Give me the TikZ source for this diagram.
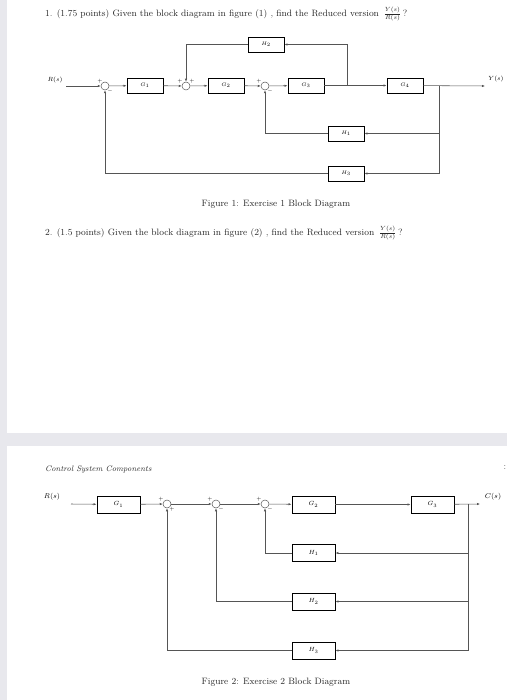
\documentclass[tikz,border=0pt]{standalone}
\usetikzlibrary{arrows.meta,positioning}
\definecolor{pagegray}{RGB}{232,232,237}
\definecolor{wirecol}{RGB}{85,85,85}
\definecolor{inkcol}{RGB}{40,40,40}
\tikzset{
  blk/.style={draw=black,line width=0.9pt,minimum width=36pt,minimum height=15pt,inner sep=0pt,font=\fontsize{5.5}{6}\selectfont},
  blkb/.style={blk,minimum width=43pt,minimum height=17pt,font=\fontsize{6.5}{7}\selectfont},
  sumc/.style={draw=wirecol,circle,minimum size=8pt,inner sep=0pt,line width=0.5pt},
  wire/.style={draw=wirecol,line width=0.55pt},
  sig/.style={wire,-{Latex[length=3pt,width=2.4pt]}},
  sgn/.style={font=\fontsize{5}{5}\selectfont,inner sep=0pt},
  lbl/.style={font=\fontsize{6}{7}\selectfont,inner sep=0pt},
  txt/.style={font=\fontsize{9.2}{10}\selectfont,inner sep=0pt,text=inkcol}
}
\begin{document}
\begin{tikzpicture}[x=1pt,y=-1pt]
\useasboundingbox (0,0) rectangle (507,700);

% page edges of the screenshot
\fill[pagegray] (0,0) rectangle (7,700);
\fill[pagegray] (7,433) rectangle (507,446);

% question 1
\node[txt,anchor=west] (q1) at (45,14) {1. (1.75 points) Given the block diagram in figure (1) , find the Reduced version\, $\frac{Y(s)}{R(s)}$\,?};

% figure 1
\node[lbl] (rs1) at (55,80) {$R(s)$};
\coordinate (in1) at (66,86);
\node[sumc] (s1) at (105,86) {};
\node[blk] (g1) at (145,85.5) {$G_1$};
\node[sumc] (s2) at (186,86) {};
\node[blk] (g2) at (226,85.5) {$G_2$};
\node[sumc] (s3) at (265,86) {};
\node[blk] (g3) at (306,85.5) {$G_3$};
\node[blk] (g4) at (405,85.5) {$G_4$};
\coordinate (b1) at (347,86);
\coordinate (t1) at (439,86);
\coordinate (out1) at (485,86);
\node[lbl] (ys) at (496,79) {$Y(s)$};
\node[blk] (h2) at (266,44.5) {$H_2$};
\node[blk] (h1) at (346,133.5) {$H_1$};
\node[blk] (h3) at (346,173.5) {$H_3$};

\node[sgn] at (100,81) {$+$};
\node[sgn] at (110,91) {$-$};
\node[sgn] at (180,81) {$+$};
\node[sgn] at (192,81) {$+$};
\node[sgn] at (259,81) {$+$};
\node[sgn] at (270,91) {$-$};

\draw[sig] (in1) -- (s1);
\draw[sig] (s1) -- (g1);
\draw[sig] (g1) -- (s2);
\draw[sig] (s2) -- (g2);
\draw[sig] (g2) -- (s3);
\draw[sig] (s3) -- (g3);
\draw[sig] (g3) -- (g4);
\draw[sig] (g4) -- (out1);
\draw[sig] (b1) |- (h2);
\draw[sig] (h2) -| (s2);
\draw[sig] (t1) |- (h1);
\draw[sig] (h1) -| (s3);
\draw[sig] (t1) |- (h3);
\draw[sig] (h3) -| (s1);

\node[txt] (cap1) at (276,204) {Figure 1: Exercise 1 Block Diagram};

% question 2
\node[txt,anchor=west] (q2) at (45,233) {2. (1.5 points) Given the block diagram in figure (2) , find the Reduced version\, $\frac{Y(s)}{R(s)}$\,?};

% figure 2
\node[txt,anchor=west,font=\fontsize{8}{9}\selectfont\itshape] (csc) at (45,469) {Control System Components};
\node[txt] (dots) at (505,468) {:};
\node[lbl,font=\fontsize{7}{8}\selectfont] (rs2) at (52,497) {$R(s)$};
\coordinate (in2) at (71,504);
\node[blkb] (gb1) at (118.5,504.5) {$G_1$};
\node[sumc] (s4) at (167,504) {};
\node[sumc] (s5) at (216,504) {};
\node[sumc] (s6) at (265,504) {};
\node[blkb] (gb2) at (313.5,504.5) {$G_2$};
\node[blkb] (gb3) at (432.5,504.5) {$G_3$};
\coordinate (t2) at (468,504);
\coordinate (out2) at (480,504);
\node[lbl,font=\fontsize{7}{8}\selectfont] (cs) at (493,497) {$C(s)$};
\node[blkb] (hb1) at (313.5,553) {$H_1$};
\node[blkb] (hb2) at (313.5,601.5) {$H_2$};
\node[blkb] (hb3) at (313.5,650.5) {$H_3$};

\node[sgn] at (161,499) {$+$};
\node[sgn] at (172,509) {$+$};
\node[sgn] at (210,499) {$+$};
\node[sgn] at (221,509) {$-$};
\node[sgn] at (259,499) {$+$};
\node[sgn] at (270,509) {$-$};

\draw[sig] (in2) -- (gb1);
\draw[sig] (gb1) -- (s4);
\draw[sig] (s4) -- (s5);
\draw[sig] (s5) -- (s6);
\draw[sig] (s6) -- (gb2);
\draw[sig] (gb2) -- (gb3);
\draw[sig] (gb3) -- (out2);
\draw[sig] (t2) |- (hb1);
\draw[sig] (hb1) -| (s6);
\draw[sig] (t2) |- (hb2);
\draw[sig] (hb2) -| (s5);
\draw[sig] (t2) |- (hb3);
\draw[sig] (hb3) -| (s4);

\node[txt] (cap2) at (276,682) {Figure 2: Exercise 2 Block Diagram};
\end{tikzpicture}
\end{document}
